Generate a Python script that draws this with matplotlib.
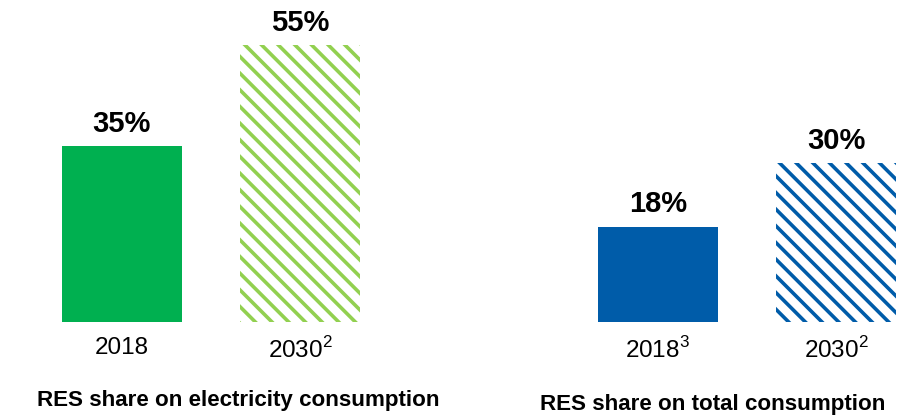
import matplotlib as mpl
mpl.use('Agg')
import matplotlib.pyplot as plt

plt.rcParams['font.family'] = ['Liberation Sans', 'DejaVu Sans']
plt.rcParams['mathtext.fontset'] = 'custom'
plt.rcParams['mathtext.rm'] = 'Liberation Sans'
plt.rcParams['hatch.linewidth'] = 2.6

# data
elec_years = ['2018', '2030$^{2}$']
elec_values = [35, 55]
total_years = ['2018$^{3}$', '2030$^{2}$']
total_values = [18, 30]
titles = ['RES share on electricity consumption', 'RES share on total consumption']

green = '#00B050'
light_green = '#92D050'
blue = '#005CA9'

W, H = 900, 416
fig = plt.figure(figsize=(W / 100, H / 100), dpi=100, facecolor='w')


def panel(left_px, scale, years, values, solid, hatchcol):
    bottom_px = 94
    top = 60
    ax = fig.add_axes([left_px / W, bottom_px / H, 298 / W, top * scale / H])
    ax.bar(0, values[0], width=0.67, color=solid, linewidth=0)
    ax.bar(1, values[1], width=0.67, facecolor='w', edgecolor=hatchcol,
           hatch='\\\\', linewidth=0)
    for i, v in enumerate(values):
        ax.annotate('{}%'.format(v), (i, v), xytext=(0, 6), textcoords='offset points',
                    ha='center', va='bottom', fontsize=21, fontweight='bold')
    ax.set_xlim(-0.335, 1.335)
    ax.set_ylim(0, top)
    ax.set_xticks([0, 1])
    ax.set_xticklabels(years, fontsize=17.5)
    ax.tick_params(axis='x', length=0, pad=11)
    ax.set_yticks([])
    for s in ax.spines.values():
        s.set_visible(False)
    ax.patch.set_alpha(0)
    return ax


panel(62, 5.03, elec_years, elec_values, green, light_green)
panel(598, 5.3, total_years, total_values, blue, blue)

fig.text(238 / W, 1 - 406 / H, titles[0], ha='center', va='baseline',
         fontsize=16.1, fontweight='bold')
fig.text(713 / W, 1 - 410 / H, titles[1], ha='center', va='baseline',
         fontsize=16.1, fontweight='bold')

plt.savefig('out.png', dpi=100)
